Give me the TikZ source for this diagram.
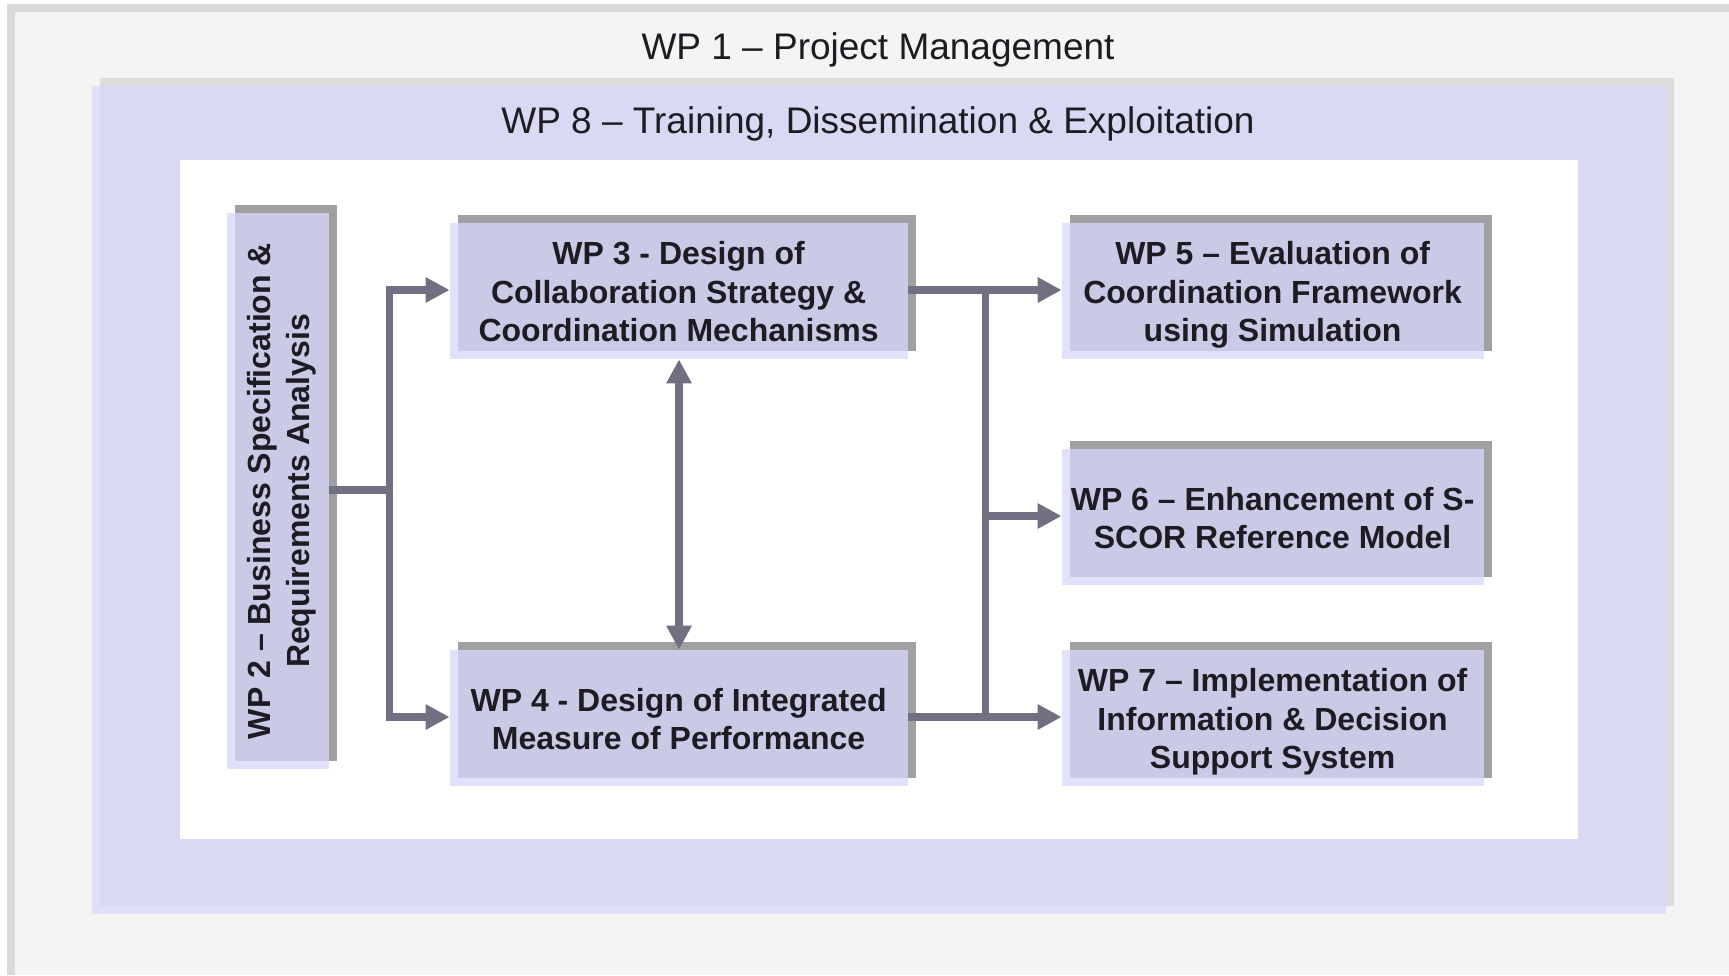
\documentclass[tikz,border=0pt]{standalone}
\usepackage{fontspec}
\setmainfont{Liberation Sans}
\usetikzlibrary{positioning,arrows.meta,backgrounds}

\definecolor{framegray}{RGB}{217,217,217}
\definecolor{framefill}{RGB}{244,244,244}
\definecolor{wpeight}{RGB}{217,217,243}
\definecolor{wpeightedge}{RGB}{220,220,220}
\definecolor{wpeightlight}{RGB}{224,224,251}
\definecolor{boxfill}{RGB}{202,202,230}
\definecolor{boxedge}{RGB}{160,160,160}
\definecolor{boxlight}{RGB}{225,225,252}
\definecolor{linkcol}{RGB}{112,112,130}
\definecolor{inkcol}{RGB}{28,28,34}

\newcommand{\wpup}{\rule{0pt}{19.8pt}}
\tikzstyle{wptext} = [text=inkcol,font=\bfseries\fontsize{16}{19.3}\selectfont,align=center,inner sep=0pt]
\tikzstyle{wpbox} = [wptext,fill=boxfill,minimum width=207pt,minimum height=64pt,
    execute at end node={\rule[-3.5pt]{0pt}{3.5pt}\kern4.4pt}]
\tikzstyle{wptitle} = [text=inkcol,font=\fontsize{18.5}{22}\selectfont,anchor=base,inner sep=0pt]
\tikzstyle{link} = [draw=linkcol,line width=3.75pt]
\tikzstyle{arrow} = [link,-{Triangle[length=12pt,width=12pt]},shorten >=4pt]

\begin{document}
\begin{tikzpicture}[x=0.5pt,y=-0.5pt,node distance=10pt,on grid]
    \useasboundingbox (0,0) rectangle (1729,975);
    % titles of the two outer work packages
    \node[wptitle] (wp1t) at (878,59) {WP 1 – Project Management};
    \node[wptitle] (wp8t) at (878,133) {WP 8 – Training, Dissemination \& Exploitation};
    % work package boxes
    \node[wptext,fill=boxfill,minimum width=47pt,minimum height=274pt] (wp2) at (282,487) {};
    \node[wptext,rotate=90] (wp2txt) at ([yshift=-2pt]wp2.center) {WP 2 – Business Specification \&\\Requirements Analysis};
    \node[wpbox,minimum width=225pt] (wp3) at (683,287) {\wpup WP 3 - Design of\\Collaboration Strategy \&\\Coordination Mechanisms};
    \node[wpbox,minimum width=225pt] (wp4) [below=213.5pt of wp3] {\wpup WP 4 - Design of Integrated\\Measure of Performance};
    \node[wpbox] (wp5) [right=297pt of wp3] {\wpup WP 5 – Evaluation of\\Coordination Framework\\using Simulation};
    \node[wpbox] (wp6) [below=113pt of wp5] {\wpup WP 6 – Enhancement of S-\\SCOR Reference Model};
    \node[wpbox] (wp7) [right=297pt of wp4] {\wpup WP 7 – Implementation of\\Information \& Decision\\Support System};
    % frames and box edges
    \begin{scope}[on background layer]
        \fill[framegray] (7,4) rectangle (1729,975);
        \fill[framefill] (15,12) rectangle (1729,975);
        \fill[wpeightedge] (100,78) rectangle (1674,906);
        \fill[wpeightlight] (92,86) rectangle (1666,914);
        \fill[wpeight] (100,86) rectangle (1666,906);
        \fill[white] (180,160) rectangle (1578,839);
        \foreach \n in {wp2,wp3,wp4,wp5,wp6,wp7}{
            \fill[boxedge] (\n.south west) rectangle ([xshift=4pt,yshift=4pt]\n.north east);
            \fill[boxlight] ([xshift=-4pt,yshift=-4pt]\n.south west) rectangle (\n.north east);
        }
    \end{scope}
    % connectors
    \coordinate (split) at ([xshift=30pt,yshift=-1.5pt]wp2.east);
    \coordinate (bus) at ([xshift=38.5pt,yshift=-1.5pt]wp3.east);
    \coordinate (busmid) at ([yshift=-1.5pt]bus |- wp6.west);
    \coordinate (busend) at ([yshift=-1.5pt]bus |- wp4.east);
    \draw[arrow] ([yshift=-1.5pt]wp2.east) -- (split) |- ([yshift=-1.5pt]wp3.west);
    \draw[arrow] (split) |- ([yshift=-1.5pt]wp4.west);
    \draw[arrow] ([yshift=-1.5pt]wp3.east) -- ([yshift=-1.5pt]wp5.west);
    \draw[arrow] ([yshift=-1.5pt]wp4.east) -- ([yshift=-1.5pt]wp7.west);
    \draw[link] (bus) -- (busend);
    \draw[arrow] (busmid) -- ([yshift=-1.5pt]wp6.west);
    \draw[link,{Triangle[length=12pt,width=12pt]}-{Triangle[length=12pt,width=12pt]},shorten <=4pt] ([xshift=-2pt]wp3.south) -- ([xshift=-2pt]wp4.north);
\end{tikzpicture}
\end{document}
